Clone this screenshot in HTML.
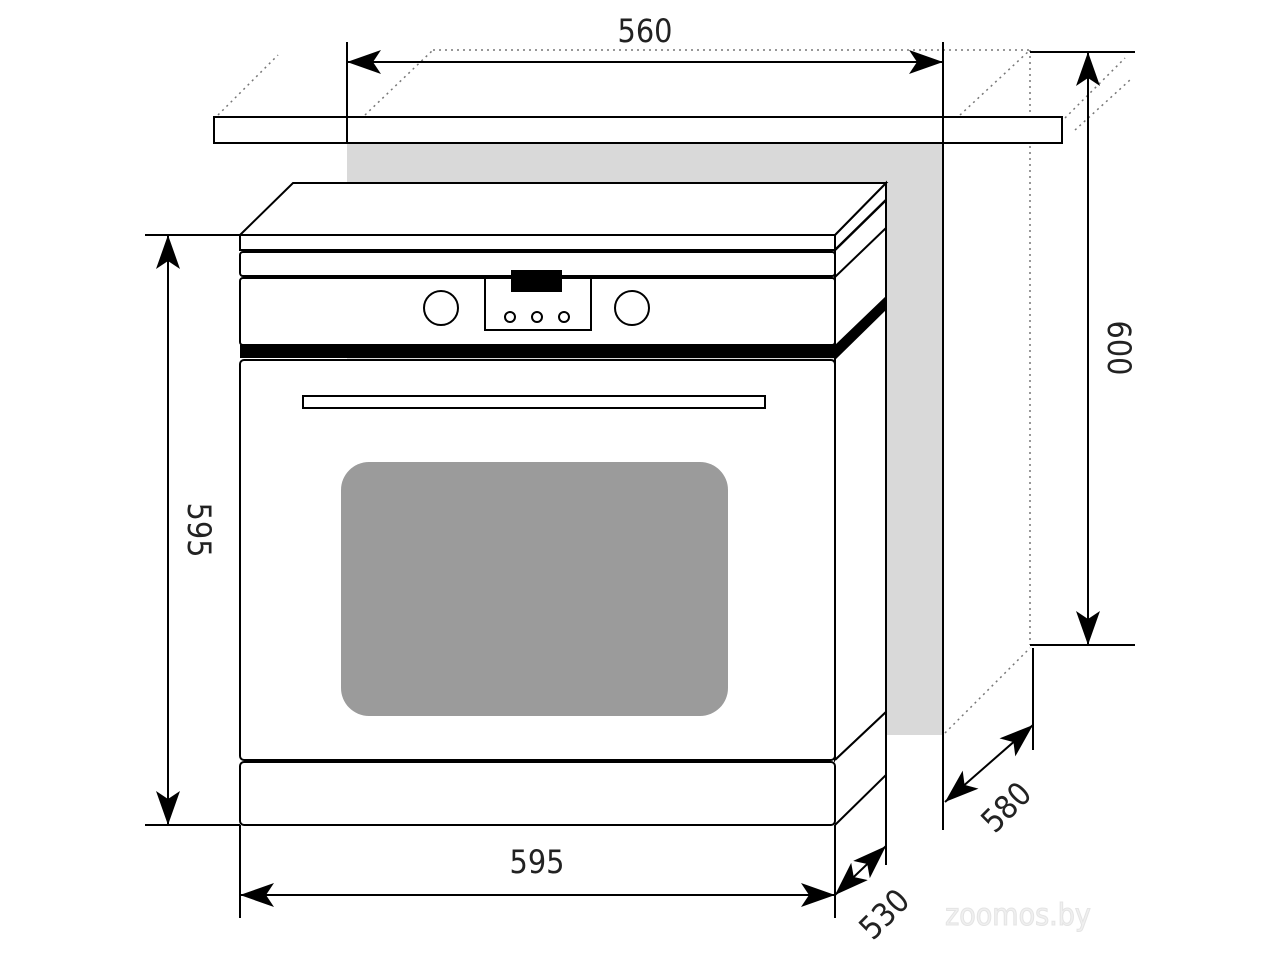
<!DOCTYPE html>
<html><head><meta charset="utf-8"><style>html,body{margin:0;padding:0;background:#fff}svg{display:block}</style></head><body>
<svg width="1280" height="960" viewBox="0 0 1280 960" xmlns="http://www.w3.org/2000/svg" font-family="'DejaVu Sans Condensed', 'DejaVu Sans', 'Liberation Sans', sans-serif">
<defs>
<marker id="a" viewBox="0 0 34 24" refX="34" refY="12" markerWidth="34" markerHeight="24" markerUnits="userSpaceOnUse" orient="auto-start-reverse">
<path d="M0,0 L34,12 L0,24 L8,12 Z" fill="#000"/></marker>
</defs>
<rect x="347" y="143" width="596" height="592" fill="#d9d9d9"/>
<line x1="943" y1="143" x2="943" y2="830" stroke="#000" stroke-width="2"/>
<g stroke="#777" stroke-width="1.5" stroke-dasharray="2,4" fill="none">
<line x1="433" y1="50" x2="1030" y2="50"/>
<line x1="218" y1="115" x2="278" y2="55"/>
<line x1="365" y1="115" x2="433" y2="50"/>
<line x1="960" y1="115" x2="1030" y2="50"/>
<line x1="1065" y1="118" x2="1125" y2="58"/>
<line x1="1075" y1="130" x2="1130" y2="80"/>
<line x1="1030" y1="50" x2="1030" y2="645"/>
<line x1="945" y1="733" x2="1030" y2="648"/>
</g>
<rect x="214" y="117" width="848" height="26" fill="#fff" stroke="#000" stroke-width="2"/>
<line x1="347" y1="42" x2="347" y2="143" stroke="#000" stroke-width="2"/>
<line x1="943" y1="42" x2="943" y2="143" stroke="#000" stroke-width="2"/>
<line x1="347" y1="62" x2="943" y2="62" stroke="#000" stroke-width="2" marker-start="url(#a)" marker-end="url(#a)"/>
<text x="645" y="42" font-size="32" text-anchor="middle" fill="#222">560</text>
<line x1="1030" y1="52" x2="1135" y2="52" stroke="#000" stroke-width="2"/>
<line x1="1030" y1="645" x2="1135" y2="645" stroke="#000" stroke-width="2"/>
<line x1="1088" y1="52" x2="1088" y2="645" stroke="#000" stroke-width="2" marker-start="url(#a)" marker-end="url(#a)"/>
<text transform="translate(1108,348) rotate(90)" font-size="32" text-anchor="middle" fill="#222">600</text>
<line x1="1033" y1="648" x2="1033" y2="750" stroke="#000" stroke-width="2"/>
<line x1="945" y1="802" x2="1033" y2="725" stroke="#000" stroke-width="2" marker-start="url(#a)" marker-end="url(#a)"/>
<text transform="translate(1014,815) rotate(-45)" font-size="32" text-anchor="middle" fill="#222">580</text>
<path d="M835,235 L886,183 L886,712 L835,760 Z" fill="#fff" stroke="#000" stroke-width="2"/>
<line x1="886" y1="183" x2="886" y2="865" stroke="#000" stroke-width="2"/>
<path d="M835,760 L886,712 L886,775 L835,825" fill="#fff" stroke="#000" stroke-width="2"/>
<line x1="835" y1="250" x2="886" y2="200" stroke="#000" stroke-width="2.5"/>
<line x1="835" y1="277" x2="886" y2="228" stroke="#000" stroke-width="2"/>
<path d="M835,345 L886,296 L886,310 L835,360 Z" fill="#000"/>
<path d="M240,235 L293,183 L886,183 L835,235 Z" fill="#fff" stroke="#000" stroke-width="2"/>
<rect x="240" y="235" width="595" height="15" fill="#fff" stroke="#000" stroke-width="2"/>
<rect x="240" y="252" width="595" height="24" rx="3" fill="#fff" stroke="#000" stroke-width="2"/>
<rect x="240" y="278" width="595" height="67" rx="3" fill="#fff" stroke="#000" stroke-width="2"/>
<rect x="240" y="345" width="595" height="13" fill="#000"/>
<path d="M485,278 L485,330 L591,330 L591,278" fill="none" stroke="#000" stroke-width="2"/>
<rect x="511" y="270" width="51" height="22" fill="#000"/>
<circle cx="441" cy="308" r="17" fill="#fff" stroke="#000" stroke-width="2"/>
<circle cx="632" cy="308" r="17" fill="#fff" stroke="#000" stroke-width="2"/>
<circle cx="510" cy="317" r="5" fill="#fff" stroke="#000" stroke-width="2"/>
<circle cx="537" cy="317" r="5" fill="#fff" stroke="#000" stroke-width="2"/>
<circle cx="564" cy="317" r="5" fill="#fff" stroke="#000" stroke-width="2"/>
<rect x="240" y="360" width="595" height="400" rx="4" fill="#fff" stroke="#000" stroke-width="2"/>
<rect x="303" y="396" width="462" height="12" fill="#fff" stroke="#000" stroke-width="2"/>
<rect x="341" y="462" width="387" height="254" rx="28" fill="#9b9b9b"/>
<rect x="240" y="762" width="595" height="63" rx="4" fill="#fff" stroke="#000" stroke-width="2"/>
<line x1="145" y1="235" x2="240" y2="235" stroke="#000" stroke-width="2"/>
<line x1="145" y1="825" x2="240" y2="825" stroke="#000" stroke-width="2"/>
<line x1="168" y1="235" x2="168" y2="825" stroke="#000" stroke-width="2" marker-start="url(#a)" marker-end="url(#a)"/>
<text transform="translate(188,530) rotate(90)" font-size="32" text-anchor="middle" fill="#222">595</text>
<line x1="240" y1="825" x2="240" y2="918" stroke="#000" stroke-width="2"/>
<line x1="835" y1="825" x2="835" y2="918" stroke="#000" stroke-width="2"/>
<line x1="240" y1="895" x2="835" y2="895" stroke="#000" stroke-width="2" marker-start="url(#a)" marker-end="url(#a)"/>
<text x="537" y="873" font-size="32" text-anchor="middle" fill="#222">595</text>
<line x1="835" y1="895" x2="886" y2="846" stroke="#000" stroke-width="2" marker-start="url(#a)" marker-end="url(#a)"/>
<text transform="translate(892,922) rotate(-45)" font-size="32" text-anchor="middle" fill="#222">530</text>
<text x="1018" y="925" font-size="30" fill="#f0f0f0" stroke="#e4e4e4" stroke-width="1" text-anchor="middle">zoomos.by</text>
</svg>
</body></html>
